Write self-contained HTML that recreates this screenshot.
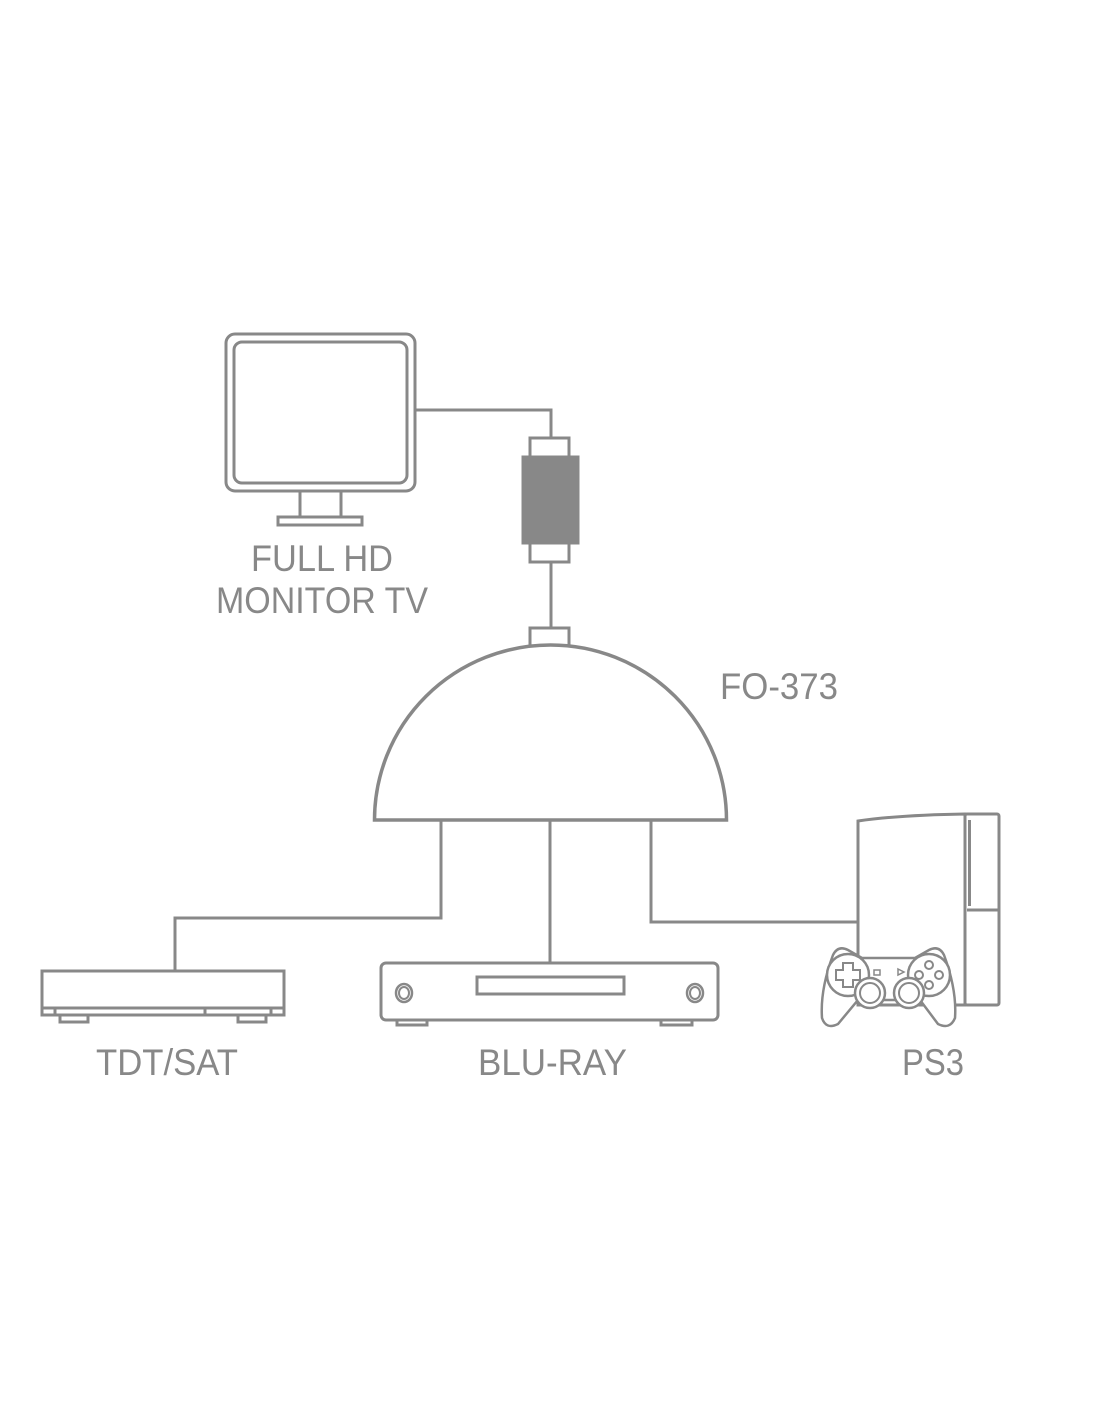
<!DOCTYPE html>
<html><head><style>html,body{margin:0;padding:0;background:#fff;}svg{display:block}</style></head>
<body>
<svg width="1100" height="1422" viewBox="0 0 1100 1422" xmlns="http://www.w3.org/2000/svg">
<g fill="none" stroke="#888" stroke-width="3">
<!-- monitor -->
<rect x="226" y="334" width="189" height="157" rx="9"/>
<rect x="234" y="342" width="173" height="141" rx="8"/>
<path d="M300 491V517M341 491V517"/>
<rect x="278" y="517" width="84" height="8"/>
<!-- cable -->
<path d="M415 410H551V438"/>
<rect x="530" y="438" width="39" height="20" fill="#fff"/>
<rect x="523" y="457" width="55" height="86" fill="#888"/>
<rect x="530" y="543" width="39" height="19" fill="#fff"/>
<path d="M551 562V628"/>
<rect x="530" y="628" width="39" height="18" fill="#fff"/>
<!-- dome -->
<path d="M374.5 820 A176 175 0 0 1 726.5 820 Z" stroke-width="3.5" fill="#fff"/>
<!-- connections -->
<path d="M441 820V918H175V971"/>
<path d="M550 820V963"/>
<path d="M651 820V922H858"/>
<!-- TDT box -->
<rect x="42" y="971" width="242" height="44"/>
<path d="M42 1008H284M55 1008V1015M271 1008V1015M205 1008V1015"/>
<path d="M60 1015V1022H88V1015M238 1015V1022H266V1015"/>
<!-- Blu-ray -->
<rect x="381" y="963" width="337" height="57" rx="5"/>
<rect x="477" y="977" width="147" height="17"/>
<ellipse cx="404" cy="993" rx="8" ry="9" stroke-width="2.5"/>
<ellipse cx="404" cy="993" rx="5" ry="6" stroke-width="2"/>
<ellipse cx="695" cy="993" rx="8" ry="9" stroke-width="2.5"/>
<ellipse cx="695" cy="993" rx="5" ry="6" stroke-width="2"/>
<path d="M397 1020V1025H427V1020M661 1020V1025H692V1020"/>
<!-- PS3 console -->
<path d="M858 821 Q900 815 965 814 V1005 H858 Z" fill="#fff"/>
<rect x="965" y="814" width="34" height="191" rx="2" fill="#fff"/>
<path d="M967 910H998"/>
<rect x="968" y="820" width="3" height="86" fill="#888" stroke="none"/>
<!-- controller -->
<path d="M848 950 Q838 945 833 955 Q820 990 822 1018 Q826 1030 838 1024 L858 1000 H920 L938 1024 Q950 1030 955 1018 Q957 990 944 955 Q939 945 929 950 L915 958 H862 Z" fill="#fff" stroke-width="2.5"/>
<circle cx="848" cy="975" r="21" fill="#fff" stroke-width="2.5"/>
<circle cx="929" cy="975" r="21" fill="#fff" stroke-width="2.5"/>
<path d="M843 963h10v7h7v10h-7v7h-10v-7h-7v-10h7z" stroke-width="2"/>
<circle cx="929" cy="965" r="4" stroke-width="2"/>
<circle cx="929" cy="985" r="4" stroke-width="2"/>
<circle cx="919" cy="975" r="4" stroke-width="2"/>
<circle cx="939" cy="975" r="4" stroke-width="2"/>
<rect x="874" y="970" width="6" height="5" stroke-width="1.5"/>
<path d="M898 969l6 3-6 3z" stroke-width="1.5"/>
<circle cx="870" cy="993" r="15" fill="#fff" stroke-width="2.5"/>
<circle cx="870" cy="993" r="10" stroke-width="2"/>
<circle cx="909" cy="993" r="15" fill="#fff" stroke-width="2.5"/>
<circle cx="909" cy="993" r="10" stroke-width="2"/>
</g>
<g fill="#888" font-family="'Liberation Sans', sans-serif" font-size="37">
<text x="251" y="571" textLength="142" lengthAdjust="spacingAndGlyphs">FULL HD</text>
<text x="216" y="613" textLength="212" lengthAdjust="spacingAndGlyphs">MONITOR TV</text>
<text x="720" y="699" textLength="118" lengthAdjust="spacingAndGlyphs">FO-373</text>
<text x="96" y="1075" textLength="142" lengthAdjust="spacingAndGlyphs">TDT/SAT</text>
<text x="478" y="1075" textLength="149" lengthAdjust="spacingAndGlyphs">BLU-RAY</text>
<text x="902" y="1075" textLength="62" lengthAdjust="spacingAndGlyphs">PS3</text>
</g>
</svg>
</body></html>
